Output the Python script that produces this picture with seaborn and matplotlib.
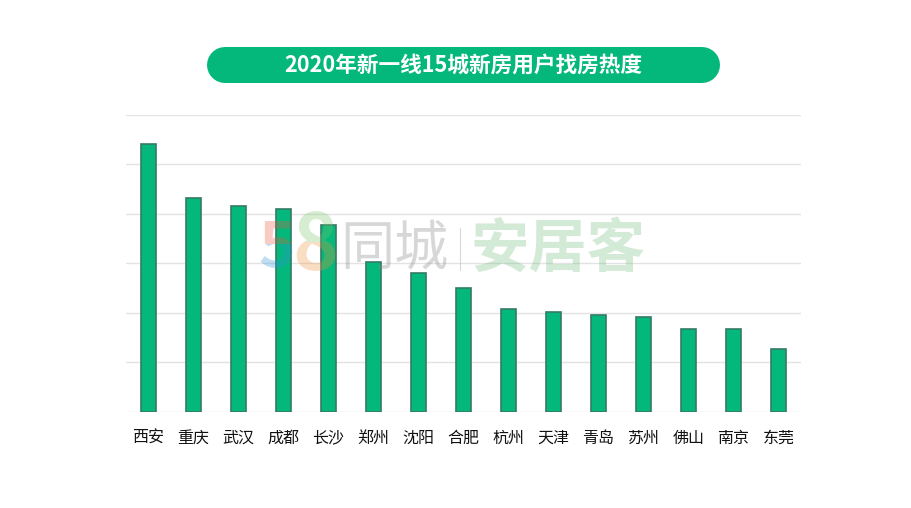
import matplotlib
matplotlib.use('Agg')
import matplotlib.pyplot as plt
from matplotlib.patches import Rectangle
import pandas as pd
import seaborn as sns

# Values (the chart has no y labels, so units are gridline steps)
cities = ['西安', '重庆', '武汉', '成都', '长沙', '郑州', '沈阳', '合肥', '杭州', '天津', '青岛', '苏州', '佛山', '南京', '东莞']
heat = [5.40, 4.31, 4.16, 4.09, 3.78, 3.02, 2.80, 2.50, 2.08, 2.02, 1.96, 1.92, 1.68, 1.68, 1.26]
grid_ticks = [0, 1, 2, 3, 4, 5, 6]
title = '2020年新一线15城新房用户找房热度'

green = '#03b87a'
W, H = 912, 508

sns.set_theme(style='whitegrid')
plt.rcParams['font.family'] = ['Noto Sans CJK SC', 'DejaVu Sans']

df = pd.DataFrame({'city': cities, 'heat': heat})

fig = plt.figure(figsize=(W / 100, H / 100), dpi=100, facecolor='white')
ax = fig.add_axes([126 / W, (H - 411.7) / H, 675 / W, 297 / H])
sns.barplot(data=df, x='city', y='heat', ax=ax, color=green, saturation=1, width=0.33,
            edgecolor='#357a68', linewidth=1.2)
ax.set_ylim(0, 6)
ax.set_yticks(grid_ticks)
ax.set_yticklabels([])
ax.set_xlabel('')
ax.set_ylabel('')
ax.grid(axis='y', color='#e3e3e3', linewidth=1)
ax.grid(axis='x', visible=False)
ax.tick_params(axis='x', length=0, pad=13, labelsize=11.5, labelcolor='#111111')
ax.tick_params(axis='y', length=0)
sns.despine(ax=ax, left=True, bottom=True)
ax.set_facecolor('none')

# overlay in pixel coordinates for the title pill and the watermark
ov = fig.add_axes([0, 0, 1, 1], facecolor='none')
ov.set_xlim(0, W)
ov.set_ylim(H, 0)
ov.axis('off')

# pill is a thick line with round caps, 36 px high
ov.plot([225, 702], [65, 65], color=green, linewidth=36 * 72 / 100, solid_capstyle='round')
ov.text(463, 65, title, color='white', fontsize=15.6, fontweight='bold', ha='center', va='center')

# watermark: each digit is drawn twice, clipped to get the two colour logo
def two_tone(x, y, s, size, top_col, bot_col, split):
    for col, box in [(top_col, (0, 0, W, split)), (bot_col, (0, split, W, H - split))]:
        t = ov.text(x, y, s, color=col, alpha=0.3, fontsize=size, fontweight='bold',
                    ha='center', va='center')
        t.set_clip_on(True)
        t.set_clip_path(Rectangle(box[:2], box[2], box[3], transform=ov.transData))

two_tone(277, 248, '5', 45, '#e8553f', '#2f93d8', 244)
two_tone(315, 247, '8', 56, '#7cc56a', '#f0943c', 242)

ov.text(394, 250, '同城', color='#8c8c8c', alpha=0.34, fontsize=39, ha='center', va='center')
ov.plot([460, 460], [228, 270], color='#bdbdbd', alpha=0.6, linewidth=0.8)
ov.text(558, 250, '安居客', color='#5fb56f', alpha=0.28, fontsize=42, fontweight='bold', ha='center', va='center')

fig.savefig('out.png', dpi=100)
